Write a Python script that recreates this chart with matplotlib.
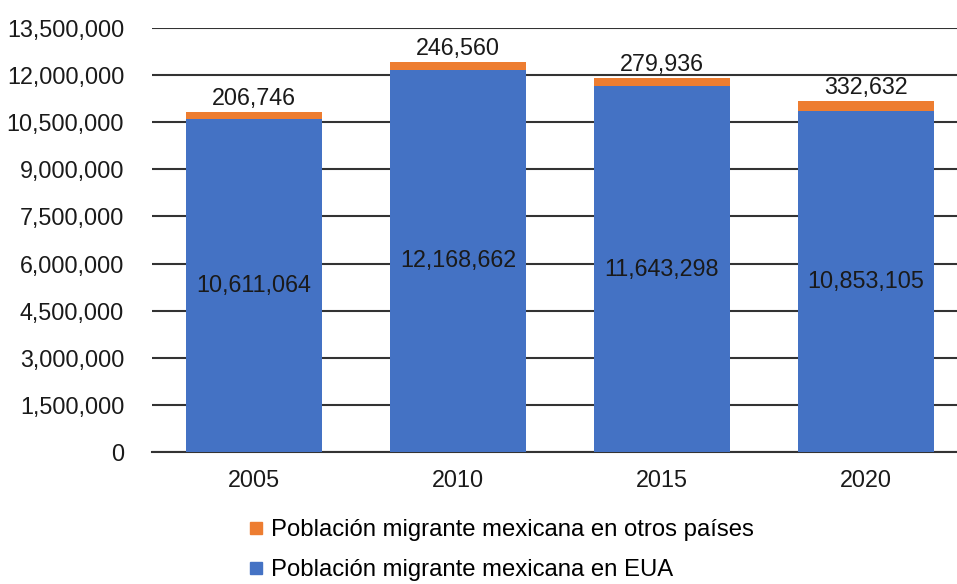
import matplotlib.pyplot as plt
from matplotlib.lines import Line2D

years = ["2005", "2010", "2015", "2020"]
eua = [10611064, 12168662, 11643298, 10853105]
otros = [206746, 246560, 279936, 332632]
y_ticks = [0, 1500000, 3000000, 4500000, 6000000, 7500000, 9000000,
           10500000, 12000000, 13500000]

blue = "#4472C4"
orange = "#ED7D31"
plt.rcParams['font.family'] = ['Liberation Sans', 'DejaVu Sans']

fig = plt.figure(figsize=(9.57, 5.84), dpi=100)
ax = fig.add_axes([0.1588, 0.226, 0.8412, 0.726])

x = range(len(years))
ax.bar(x, eua, width=0.667, color=blue, zorder=3)
ax.bar(x, otros, bottom=eua, width=0.667, color=orange, zorder=3)

for i in x:
    ax.text(i, eua[i] / 2, f"{eua[i]:,}", ha="center", va="center",
            fontsize=16.8, color="#1a1a1a", zorder=4)
    ax.text(i, eua[i] + otros[i] + 60000, f"{otros[i]:,}", ha="center",
            va="bottom", fontsize=16.8, color="#1a1a1a", zorder=4)

ax.set_xlim(-0.5, 3.446)
ax.set_ylim(0, 13500000)
ax.set_yticks(y_ticks)
ax.set_yticklabels([f"{v:,}" for v in y_ticks])
ax.set_xticks(list(x))
ax.set_xticklabels(years)
ax.tick_params(axis="both", length=0, labelsize=16.8, colors="#1a1a1a")
ax.tick_params(axis="y", pad=20)
ax.tick_params(axis="x", pad=12)
ax.yaxis.grid(True, color="#333333", linewidth=1.5, zorder=0)
for s in ["top", "right", "left"]:
    ax.spines[s].set_visible(False)
ax.spines["bottom"].set_color("#333333")
ax.spines["bottom"].set_linewidth(1.5)

handles = [Line2D([], [], marker="s", linestyle="none", color=orange, markersize=8),
           Line2D([], [], marker="s", linestyle="none", color=blue, markersize=8)]
labels = ["Población migrante mexicana en otros países",
          "Población migrante mexicana en EUA"]
fig.legend(handles, labels, loc="upper left", bbox_to_anchor=(0.258, 0.111),
           frameon=False, fontsize=17.2, handletextpad=0.2, handlelength=0.8,
           labelspacing=0.76, borderaxespad=0, borderpad=0)

fig.savefig("out.png", dpi=100)
